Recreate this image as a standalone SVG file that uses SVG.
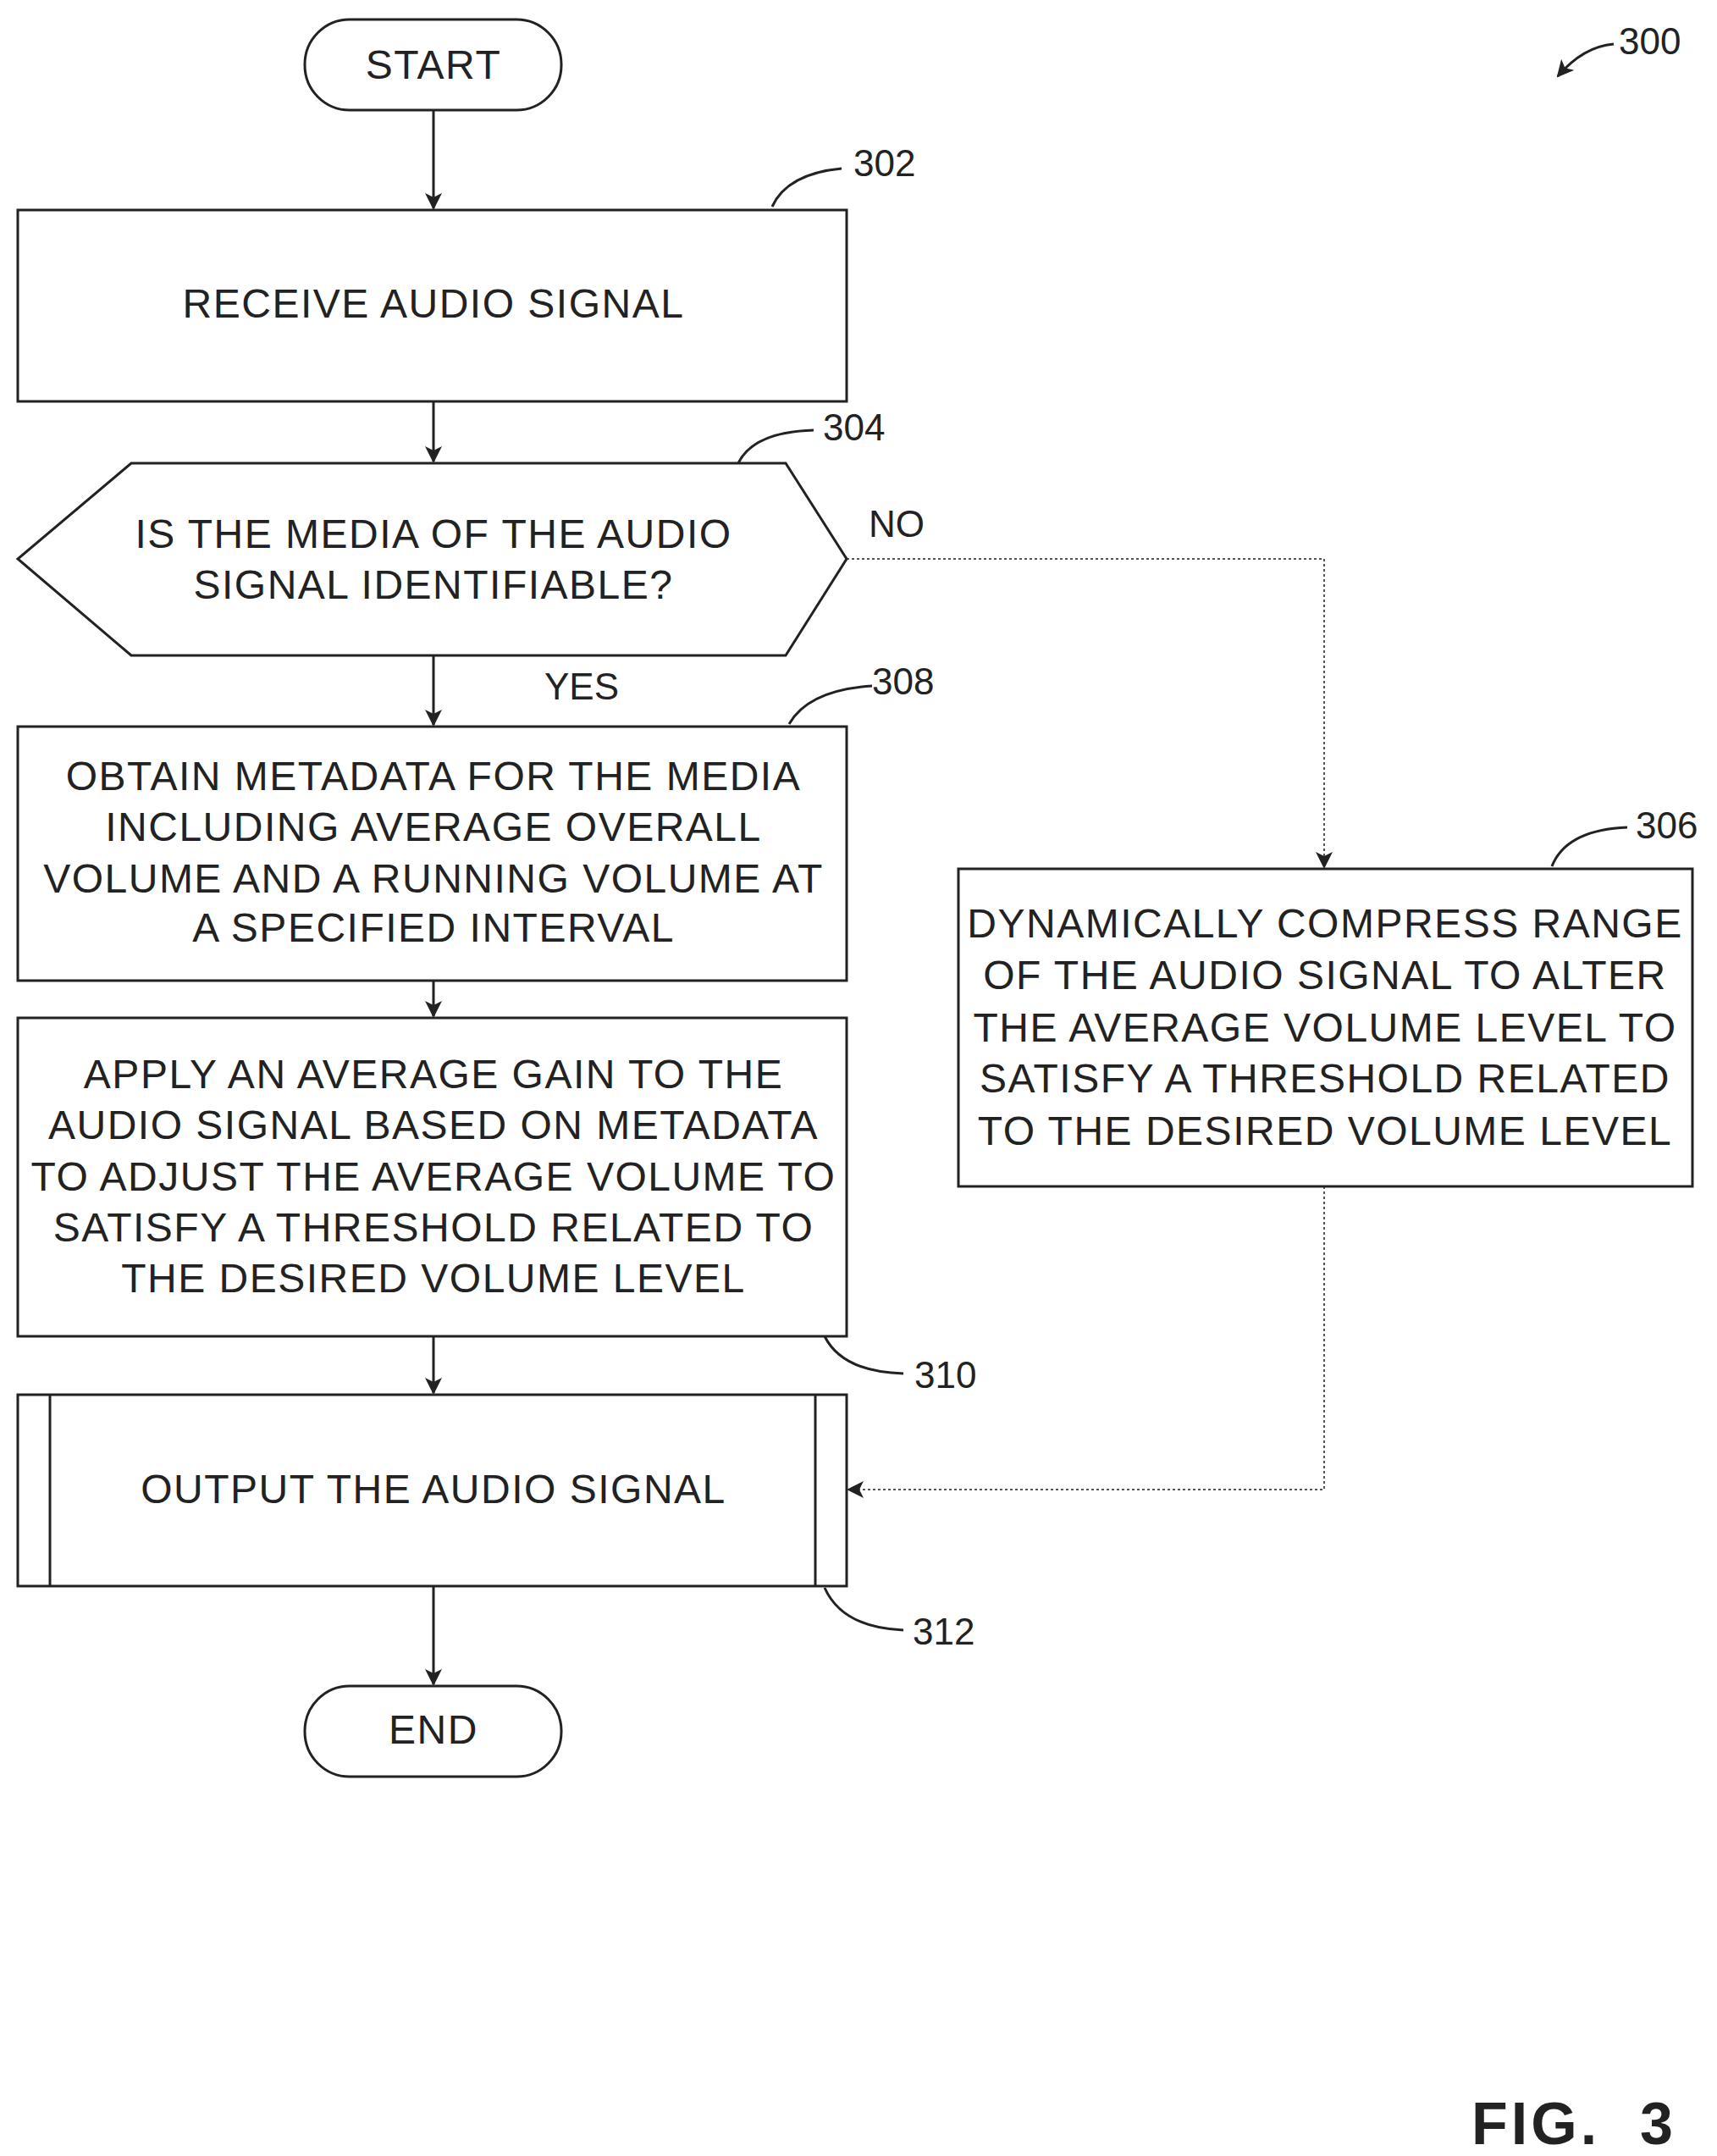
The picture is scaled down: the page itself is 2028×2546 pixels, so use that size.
<svg xmlns="http://www.w3.org/2000/svg" width="2028" height="2546" viewBox="0 0 2028 2546">
<style>
.s{fill:#fff;stroke:#222;stroke-width:3}
.t{font-family:"Liberation Sans",Arial,sans-serif;font-size:48px;letter-spacing:1.5px;fill:#222;text-anchor:middle}
.l{font-family:"Liberation Sans",Arial,sans-serif;font-size:44px;fill:#222}
.c{fill:none;stroke:#222;stroke-width:3}
.d{fill:none;stroke:#555;stroke-width:2;stroke-dasharray:3 3}
</style>
<defs>
<marker id="b" markerWidth="20" markerHeight="20" refX="18" refY="10" orient="auto" markerUnits="userSpaceOnUse" viewBox="0 0 20 20"><path d="M0,0L20,10L0,20L5,10z" fill="#222"/></marker></defs>
<g id="connectors">
<path class="c" d="M512,130V246" marker-end="url(#b)"/>
<path class="c" d="M512,474V545" marker-end="url(#b)"/>
<path class="c" d="M512,774V856" marker-end="url(#b)"/>
<path class="c" d="M512,1158V1200" marker-end="url(#b)"/>
<path class="c" d="M512,1578V1645" marker-end="url(#b)"/>
<path class="c" d="M512,1873V1989" marker-end="url(#b)"/>
<path class="d" d="M1000,660H1564V1024" marker-end="url(#b)"/>
<path class="d" d="M1564,1401V1759H1002" marker-end="url(#b)"/>
<text class="l" x="1026" y="634">NO</text>
<text class="l" x="643" y="826">YES</text>
</g>
<g id="start"><rect class="s" x="360" y="23" width="303" height="107" rx="53"/><text class="t" x="512" y="93">START</text></g>
<g id="n302"><rect class="s" x="21" y="248" width="979" height="226"/><text class="t" x="512" y="375">RECEIVE AUDIO SIGNAL</text>
<path class="c" d="M912,244Q930,205 994,199"/><text class="l" x="1008" y="208">302</text></g>
<g id="n304"><path class="s" d="M155,547H928L1000,660L928,774H155L21,660z"/><text class="t" x="512" y="647">IS THE MEDIA OF THE AUDIO</text><text class="t" x="512" y="707">SIGNAL IDENTIFIABLE?</text>
<path class="c" d="M872,547Q890,510 961,508"/><text class="l" x="972" y="520">304</text></g>
<g id="n308"><rect class="s" x="21" y="858" width="979" height="300"/>
<text class="t" x="512" y="933">OBTAIN METADATA FOR THE MEDIA</text><text class="t" x="512" y="993">INCLUDING AVERAGE OVERALL</text><text class="t" x="512" y="1054">VOLUME AND A RUNNING VOLUME AT</text><text class="t" x="512" y="1112">A SPECIFIED INTERVAL</text>
<path class="c" d="M932,855Q955,815 1030,810"/><text class="l" x="1030" y="820">308</text></g>
<g id="n310"><rect class="s" x="21" y="1202" width="979" height="376"/>
<text class="t" x="512" y="1285">APPLY AN AVERAGE GAIN TO THE</text><text class="t" x="512" y="1345">AUDIO SIGNAL BASED ON METADATA</text><text class="t" x="512" y="1406">TO ADJUST THE AVERAGE VOLUME TO</text><text class="t" x="512" y="1466">SATISFY A THRESHOLD RELATED TO</text><text class="t" x="512" y="1526">THE DESIRED VOLUME LEVEL</text>
<path class="c" d="M974,1578Q995,1620 1067,1622"/><text class="l" x="1080" y="1639">310</text></g>
<g id="n312"><rect class="s" x="21" y="1647" width="979" height="226"/><path class="c" d="M59,1647V1873M963,1647V1873"/><text class="t" x="512" y="1775">OUTPUT THE AUDIO SIGNAL</text>
<path class="c" d="M974,1875Q995,1922 1067,1925"/><text class="l" x="1078" y="1942">312</text></g>
<g id="end"><rect class="s" x="360" y="1991" width="303" height="107" rx="53"/><text class="t" x="512" y="2059">END</text></g>
<g id="n306"><rect class="s" x="1132" y="1026" width="867" height="375"/>
<text class="t" x="1565" y="1107">DYNAMICALLY COMPRESS RANGE</text><text class="t" x="1565" y="1168">OF THE AUDIO SIGNAL TO ALTER</text><text class="t" x="1565" y="1230">THE AVERAGE VOLUME LEVEL TO</text><text class="t" x="1565" y="1290">SATISFY A THRESHOLD RELATED</text><text class="t" x="1565" y="1352">TO THE DESIRED VOLUME LEVEL</text>
<path class="c" d="M1833,1023Q1850,980 1922,977"/><text class="l" x="1932" y="990">306</text></g>
<g id="fig"><path class="c" d="M1906,52Q1870,55 1840,90" marker-end="url(#b)"/><text class="l" x="1912" y="64">300</text>
<text x="1738" y="2532" style="font-family:'Liberation Sans',Arial,sans-serif;font-size:70px;font-weight:bold;letter-spacing:4px;fill:#222" xml:space="preserve">FIG.  3</text></g>
</svg>
